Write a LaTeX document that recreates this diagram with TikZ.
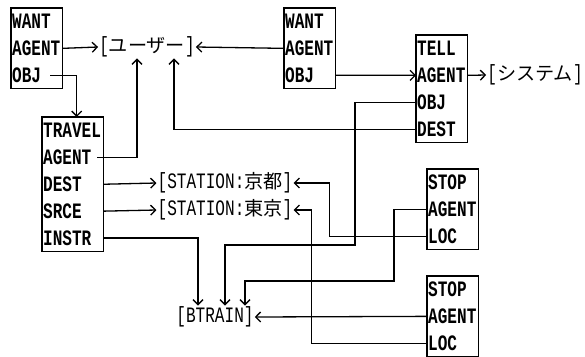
\documentclass[tikz,border=0pt]{standalone}
\usepackage{fontspec}
\setmainfont{Liberation Mono}[FakeStretch=0.73]
\newfontfamily\cjk{Noto Sans CJK JP}[Scale=0.87]
\usetikzlibrary{arrows.meta, positioning}

\begin{document}
\begin{tikzpicture}[x=1pt, y=-1pt, link/.style={-{Straight Barb[length=5pt,width=10pt]}, line width=1.3pt}, row/.style={anchor=north west, text width=#1, inner xsep=1pt, inner ysep=0pt, minimum height=26.5pt, text height=14pt, text depth=0pt, align=left, font=\fontsize{22}{22}\selectfont\bfseries}, frame/.style={line width=1.1pt}, tag/.style={inner sep=1pt, font=\fontsize{22}{22}\selectfont}]
\useasboundingbox (0,0) rectangle (585,356);

\node[row=49pt] (w1want) at (11,8) {WANT};
\node[row=49pt, below=0pt of w1want] (w1agent) {AGENT};
\node[row=49pt, below=0pt of w1agent] (w1obj) {OBJ};
\draw[frame] (w1want.north west) rectangle (w1obj.south east);

\node[row=49pt] (w2want) at (284,8) {WANT};
\node[row=49pt, below=0pt of w2want] (w2agent) {AGENT};
\node[row=49pt, below=0pt of w2agent] (w2obj) {OBJ};
\draw[frame] (w2want.north west) rectangle (w2obj.south east);

\node[row=49pt] (tltell) at (416,35) {TELL};
\node[row=49pt, below=0pt of tltell] (tlagent) {AGENT};
\node[row=49pt, below=0pt of tlagent] (tlobj) {OBJ};
\node[row=49pt, below=0pt of tlobj] (tldest) {DEST};
\draw[frame] (tltell.north west) rectangle (tldest.south east);

\node[row=59pt] (tvtravel) at (42,117) {TRAVEL};
\node[row=59pt, below=0pt of tvtravel] (tvagent) {AGENT};
\node[row=59pt, below=0pt of tvagent] (tvdest) {DEST};
\node[row=59pt, below=0pt of tvdest] (tvsrce) {SRCE};
\node[row=59pt, below=0pt of tvsrce] (tvinstr) {INSTR};
\draw[frame] (tvtravel.north west) rectangle (tvinstr.south east);

\node[row=49pt] (s1stop) at (427,169) {STOP};
\node[row=49pt, below=0pt of s1stop] (s1agent) {AGENT};
\node[row=49pt, below=0pt of s1agent] (s1loc) {LOC};
\draw[frame] (s1stop.north west) rectangle (s1loc.south east);

\node[row=49pt] (s2stop) at (427,276) {STOP};
\node[row=49pt, below=0pt of s2stop] (s2agent) {AGENT};
\node[row=49pt, below=0pt of s2agent] (s2loc) {LOC};
\draw[frame] (s2stop.north west) rectangle (s2loc.south east);

\node[tag] (user) at (147,47) {[{\cjk ユーザー}]};
\node[tag] (sys) at (535,75) {[{\cjk システム}]};
\node[tag] (kyoto) at (225,183) {[STATION:{\cjk 京都}]};
\node[tag] (tokyo) at (225,210) {[STATION:{\cjk 東京}]};
\node[tag] (btrain) at (215,317) {[BTRAIN]};

\draw[link] (w1agent.east) -- (user.west);
\draw[link] (w2agent.west) -- (user.east);
\draw[link] ([xshift=-12pt]w1obj.east) -| ([xshift=4pt]tvtravel.north);
\draw[link] (w2obj.east) -- (tlagent.west);
\draw[link] (tlagent.east) -- (sys.west);
\draw[link] ([xshift=-6pt]tvagent.east) -| ([xshift=-10pt]user.south);
\draw[link] (tldest.west) -| ([xshift=27pt]user.south);
\draw[link] (tvdest.east) -- (kyoto.west);
\draw[link] (tvsrce.east) -- (tokyo.west);
\draw[link] (tlobj.west) -| (355,245) -| ([xshift=10pt]btrain.north);
\draw[link] (s1loc.west) -| ([xshift=36pt]kyoto.east) -- (kyoto.east);
\draw[link] (s2loc.west) -| ([xshift=18pt]tokyo.east) -- (tokyo.east);
\draw[link] (s1agent.west) -| (394,281) -| ([xshift=30pt]btrain.north);
\draw[link] (tvinstr.east) -| ([xshift=-17pt]btrain.north);
\draw[link] (s2agent.west) -- (btrain.east);
\end{tikzpicture}
\end{document}
